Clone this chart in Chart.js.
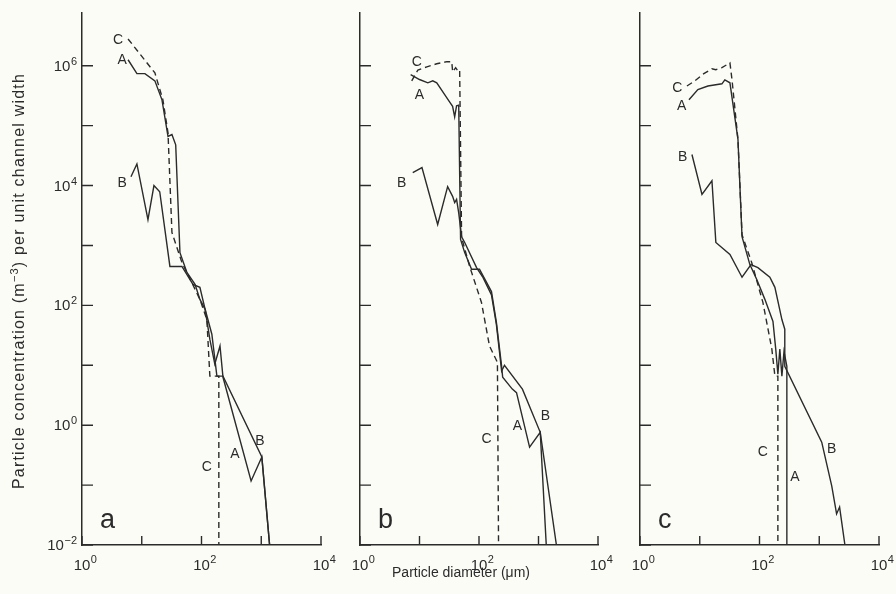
<!DOCTYPE html>
<html>
<head>
<meta charset="utf-8">
<script src="https://cdn.jsdelivr.net/npm/chart.js@4.4.1/dist/chart.umd.min.js"></script>
<style>
  html, body { margin: 0; padding: 0; background: #fcfcf7; }
  #wrap { position: relative; width: 896px; height: 594px; overflow: hidden; }
  #wrap canvas { position: absolute; left: 0; top: 0; }
</style>
</head>
<body>
<div id="wrap">
  <canvas id="panelA" width="896" height="594"></canvas>
  <canvas id="panelB" width="896" height="594"></canvas>
  <canvas id="panelC" width="896" height="594"></canvas>
</div>
<script>
/* particle size spectra, three panels (a, b, c), curves A, B, C */

// axis ticks (decades)
const X_TICKS = [1, 10, 100, 1000, 10000];
const Y_TICKS = [0.01, 0.1, 1, 10, 100, 1e3, 1e4, 1e5, 1e6];

// panel a
const aAx = [5.9, 8.3, 11.3, 16.6, 21.8, 27.5, 32, 37, 43.6, 57, 78, 94, 115, 138, 167, 204, 229, 676, 1023, 1380];
const aAy = [1.26e6, 7.4e5, 7.4e5, 5.6e5, 2.7e5, 6.6e4, 7.1e4, 4.8e4, 760, 355, 224, 126, 86, 27, 10.5, 21, 6.3, 0.117, 0.295, 0.01];
const aBx = [6.6, 8.3, 12.7, 16, 20, 29.6, 47, 72, 94, 115, 149, 181, 229, 1023, 1380];
const aBy = [1.4e4, 2.3e4, 2.7e3, 1e4, 7.9e3, 447, 447, 224, 200, 86, 33, 6.6, 6.6, 0.295, 0.01];
const aCx = [5.9, 16.6, 22.6, 27.5, 32, 47, 69, 94, 123, 138, 195, 195];
const aCy = [2.8e6, 7.6e5, 2.7e5, 7.6e4, 1650, 520, 240, 126, 58, 6.6, 6.6, 0.01];

// panel b
const bAx = [7.1, 10, 13.8, 16.7, 19.5, 26.5, 32, 36, 39, 42, 45.6, 49, 57.5, 75, 102, 162, 196, 240, 250, 363, 427, 708, 1070, 1350];
const bAy = [7.1e5, 5.9e5, 5.2e5, 5.6e5, 5.2e5, 3.3e5, 2.5e5, 2.1e5, 1.4e5, 2.15e5, 2.2e5, 1260, 760, 400, 400, 170, 52, 9.6, 6.3, 4, 3.5, 0.43, 0.76, 0.01];
const bBx = [7.7, 11, 20.2, 29.7, 36, 39, 42, 45.6, 51, 57.5, 91, 115, 162, 196, 240, 268, 537, 1070, 2000];
const bBy = [1.65e4, 2e4, 2240, 9.6e3, 6.6e3, 5.2e3, 5.9e3, 3.5e3, 1400, 1120, 427, 300, 150, 48, 8, 10, 4, 0.76, 0.01];
const bCx = [7.4, 9.4, 13.3, 19.5, 28.7, 34.8, 36.1, 40.5, 43.7, 47.3, 51, 69.6, 110, 150, 204, 213];
const bCy = [5.6e5, 8.5e5, 9.6e5, 1.08e6, 1.17e6, 1.17e6, 7.9e5, 9.3e5, 8.3e5, 8.6e5, 1350, 447, 112, 21, 11.2, 0.01];

// panel c
const cAx = [6.6, 9.3, 13.7, 23.5, 26.3, 32, 43.6, 51, 69, 90, 123, 168, 187, 203, 219, 237, 257, 287, 287];
const cAy = [2.7e5, 4.0e5, 4.6e5, 5.0e5, 5.8e5, 5.2e5, 5.9e4, 1400, 480, 270, 126, 54, 18.6, 7.1, 18.6, 6.6, 17, 9.6, 0.01];
const cBx = [7.4, 10.9, 16, 18.6, 32, 51, 72, 94, 149, 181, 237, 265, 265, 1100, 1620, 1950, 2190, 2690];
const cBy = [3.3e4, 7.1e3, 1.2e4, 1120, 708, 295, 480, 427, 295, 200, 58, 40, 9.6, 0.52, 0.096, 0.033, 0.043, 0.01];
const cCx = [6.1, 8.3, 11.7, 16, 18.6, 23.5, 32, 34.7, 43.6, 51, 74, 114, 161, 181, 203, 203];
const cCy = [4.6e5, 5.6e5, 7.4e5, 8.9e5, 8.6e5, 9.3e5, 1.12e6, 5.8e5, 5.9e4, 1510, 520, 112, 18.6, 6.6, 6.6, 0.01];

// curve letters, placed at [letter, diameter, concentration]
const aTags = [['C', 4.0, 2.7e6], ['A', 4.7, 1.26e6], ['B', 4.7, 1.1e4], ['C', 123, 0.2], ['A', 363, 0.33], ['B', 950, 0.54]];
const bTags = [['C', 9.0, 1.17e6], ['A', 10, 3.2e5], ['B', 5.0, 1.1e4], ['C', 134, 0.59], ['A', 444, 0.96], ['B', 1310, 1.4]];
const cTags = [['C', 4.2, 4.3e5], ['A', 5.0, 2.1e5], ['B', 5.2, 3e4], ['C', 114, 0.35], ['A', 390, 0.135], ['B', 1620, 0.4]];

const Y_TITLE = ['Particle concentration (m', '\u22123', ') per unit channel width'];
const X_TITLE = 'Particle diameter (\u03BCm)';

const INK = '#2b2b2b';
const FONT = '"Liberation Sans", Arial, Helvetica, sans-serif';
const expOf = v => Math.round(Math.log10(v));
const expText = e => String(e).replace('-', '\u2212');

// inward tick marks on both axes + decade labels with real superscripts
const axisDecor = {
  id: 'axisDecor',
  afterDatasetsDraw(chart, args, opts) {
    const { ctx, chartArea: a, scales: { x, y } } = chart;
    ctx.save();
    ctx.strokeStyle = INK;
    ctx.fillStyle = INK;
    ctx.lineWidth = 1.4;
    ctx.beginPath();
    X_TICKS.forEach(v => {
      const px = x.getPixelForValue(v);
      ctx.moveTo(px, a.bottom); ctx.lineTo(px, a.bottom - 9);
    });
    Y_TICKS.forEach(v => {
      const py = y.getPixelForValue(v);
      ctx.moveTo(a.left, py); ctx.lineTo(a.left + 11, py);
    });
    ctx.stroke();

    ctx.textBaseline = 'alphabetic';
    X_TICKS.filter(v => expOf(v) % 2 === 0).forEach(v => {
      const px = x.getPixelForValue(v);
      ctx.font = '15px ' + FONT;
      const w = ctx.measureText('10').width;
      ctx.textAlign = 'center';
      ctx.fillText('10', px, a.bottom + 25);
      ctx.font = '11px ' + FONT;
      ctx.textAlign = 'left';
      ctx.fillText(expText(expOf(v)), px + w / 2 + 0.5, a.bottom + 18);
    });
    if (opts.yLabels) {
      Y_TICKS.filter(v => expOf(v) % 2 === 0).forEach(v => {
        const py = y.getPixelForValue(v);
        const right = a.left - 5;
        ctx.font = '11px ' + FONT;
        ctx.textAlign = 'right';
        const s = expText(expOf(v));
        const ws = ctx.measureText(s).width;
        ctx.fillText(s, right, py - 1);
        ctx.font = '15px ' + FONT;
        ctx.fillText('10', right - ws - 0.5, py + 5);
      });
    }
    ctx.restore();
  }
};

// curve letters, panel letter, axis titles
const panelText = {
  id: 'panelText',
  afterDraw(chart, args, opts) {
    const { ctx, chartArea: a, scales: { x, y } } = chart;
    ctx.save();
    ctx.fillStyle = INK;
    ctx.font = '14px ' + FONT;
    ctx.textAlign = 'center';
    ctx.textBaseline = 'middle';
    opts.tags.forEach(t => ctx.fillText(t[0], x.getPixelForValue(t[1]), y.getPixelForValue(t[2])));
    ctx.font = '27px ' + FONT;
    ctx.textAlign = 'left';
    ctx.textBaseline = 'alphabetic';
    ctx.fillText(opts.letter, a.left + 18, a.bottom - 17);
    if (opts.xTitle) {
      ctx.font = '14px ' + FONT;
      ctx.textAlign = 'center';
      ctx.textBaseline = 'middle';
      ctx.fillText(opts.xTitle, a.left + 101, 573);
    }
    if (opts.yTitle) {
      ctx.translate(20, (a.top + a.bottom) / 2 + 2);
      ctx.rotate(-Math.PI / 2);
      ctx.letterSpacing = '1.2px';
      ctx.textAlign = 'left';
      ctx.textBaseline = 'middle';
      const fonts = ['16px ', '11px ', '16px '];
      const widths = opts.yTitle.map((s, i) => { ctx.font = fonts[i] + FONT; return ctx.measureText(s).width; });
      let cx = -widths.reduce((p, q) => p + q, 0) / 2;
      opts.yTitle.forEach((s, i) => {
        ctx.font = fonts[i] + FONT;
        ctx.fillText(s, cx, i === 1 ? -5 : 0);
        cx += widths[i];
      });
    }
    ctx.restore();
  }
};

function line(xs, ys, dashed) {
  return {
    data: xs.map((v, i) => ({ x: v, y: ys[i] })),
    showLine: true,
    borderColor: INK,
    borderWidth: 1.4,
    borderDash: dashed ? [6, 4] : [],
    pointRadius: 0,
    tension: 0,
    fill: false
  };
}

function makePanel(id, series, tags, letter, p) {
  new Chart(document.getElementById(id), {
    type: 'scatter',
    data: { datasets: series },
    options: {
      responsive: false,
      animation: false,
      devicePixelRatio: 1,
      layout: { padding: { left: p.padL, right: p.padR, top: 13, bottom: 0 } },
      plugins: {
        legend: { display: false },
        tooltip: { enabled: false },
        axisDecor: { yLabels: p.yLabels },
        panelText: { tags, letter, xTitle: p.xTitle, yTitle: p.yTitle }
      },
      scales: {
        x: {
          type: 'logarithmic', min: 1, max: 10000,
          afterBuildTicks: s => { s.ticks = X_TICKS.map(v => ({ value: v })); },
          afterFit: s => { s.height = 49; s.paddingLeft = 0; s.paddingRight = 0; },
          grid: { display: false, drawTicks: false },
          border: { color: INK, width: 1.5 },
          ticks: { display: false }
        },
        y: {
          type: 'logarithmic', min: 0.01, max: 7.6e6,
          afterBuildTicks: s => { s.ticks = Y_TICKS.map(v => ({ value: v })); },
          afterFit: s => { s.width = p.yw; s.paddingTop = 0; s.paddingBottom = 0; },
          grid: { display: false, drawTicks: false },
          border: { color: INK, width: 1.5 },
          ticks: { display: false }
        }
      }
    },
    plugins: [axisDecor, panelText]
  });
}

makePanel('panelA', [line(aAx, aAy), line(aBx, aBy), line(aCx, aCy, true)], aTags, 'a',
  { padL: 0, padR: 575, yw: 82, yLabels: true, yTitle: Y_TITLE });
makePanel('panelB', [line(bAx, bAy), line(bBx, bBy), line(bCx, bCy, true)], bTags, 'b',
  { padL: 330, padR: 298, yw: 30, yLabels: false, xTitle: X_TITLE });
makePanel('panelC', [line(cAx, cAy), line(cBx, cBy), line(cCx, cCy, true)], cTags, 'c',
  { padL: 610, padR: 17, yw: 30, yLabels: false });
</script>
</body>
</html>
